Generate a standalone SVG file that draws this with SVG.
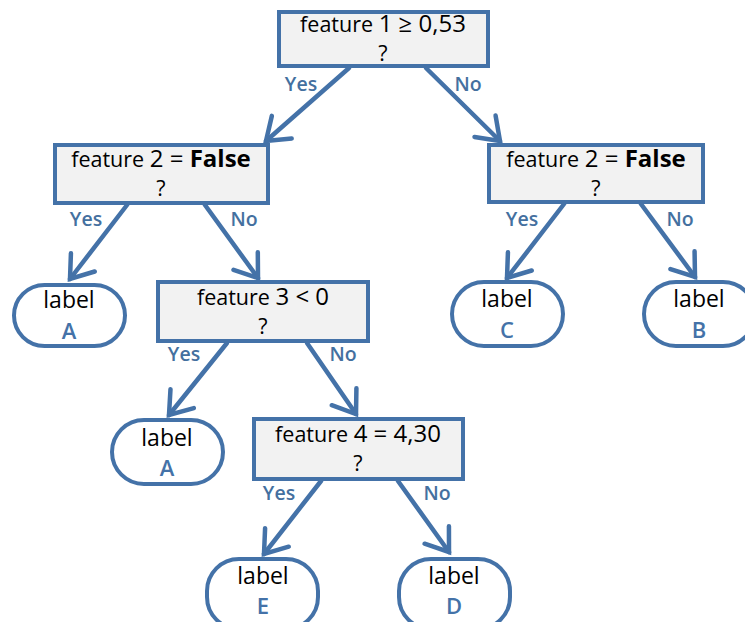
<svg xmlns="http://www.w3.org/2000/svg" width="745" height="622" viewBox="0 0 745 622">
  <style>
    .box { fill: #f2f2f2; stroke: #4472a8; stroke-width: 4; }
    .leaf { fill: #ffffff; stroke: #4472a8; stroke-width: 4; }
    .edge { fill: none; stroke: #4472a8; stroke-width: 4.5; stroke-linecap: round; }
    .q { font-family: "Open Sans", "Noto Sans", sans-serif; font-size: 21.5px; fill: #000; text-anchor: middle; }
    .num { font-size: 24px; font-weight: 500; }
    .b { font-weight: bold; }
    .yn { font-family: "Open Sans", "Noto Sans", sans-serif; font-size: 19.5px; font-weight: 600; fill: #44709f; text-anchor: middle; }
    .lbl { font-family: "Open Sans", "Noto Sans", sans-serif; font-size: 23px; fill: #000; text-anchor: middle; }
    .cls { font-family: "Open Sans", "Noto Sans", sans-serif; font-size: 22px; font-weight: 600; fill: #4472a8; text-anchor: middle; }
  </style>
  <defs>
    <marker id="vhead" markerUnits="userSpaceOnUse" markerWidth="40" markerHeight="40" refX="0" refY="0" viewBox="-30 -20 40 40" orient="auto" overflow="visible">
      <path d="M-21,-15 L0,0 L-21,15" fill="none" stroke="#4472a8" stroke-width="4.5" stroke-linecap="round" stroke-linejoin="miter"/>
    </marker>
  </defs>

  <!-- connectors -->
  <g id="connectors">
    <path class="edge" d="M349,68 L266,141" marker-end="url(#vhead)"/>
    <path class="edge" d="M426,68 L500,141" marker-end="url(#vhead)"/>
    <path class="edge" d="M127,205 L70,279" marker-end="url(#vhead)"/>
    <path class="edge" d="M205,205 L258,278" marker-end="url(#vhead)"/>
    <path class="edge" d="M564,204 L507,278" marker-end="url(#vhead)"/>
    <path class="edge" d="M641,204 L695,277" marker-end="url(#vhead)"/>
    <path class="edge" d="M227,343 L169,415" marker-end="url(#vhead)"/>
    <path class="edge" d="M307,343 L356,414" marker-end="url(#vhead)"/>
    <path class="edge" d="M321,481 L264,554" marker-end="url(#vhead)"/>
    <path class="edge" d="M398,481 L449,552" marker-end="url(#vhead)"/>
    <text class="yn" x="301" y="91">Yes</text>
    <text class="yn" x="468" y="91">No</text>
    <text class="yn" x="86" y="226">Yes</text>
    <text class="yn" x="244" y="226">No</text>
    <text class="yn" x="522" y="226">Yes</text>
    <text class="yn" x="680" y="226">No</text>
    <text class="yn" x="184" y="361">Yes</text>
    <text class="yn" x="343" y="361">No</text>
    <text class="yn" x="279" y="500">Yes</text>
    <text class="yn" x="437" y="500">No</text>
  </g>

  <!-- decision nodes -->
  <g id="q-feature1">
    <rect class="box" x="279" y="12" width="209" height="54"/>
    <text class="q" x="383" y="32">feature <tspan class="num">1 ≥ 0,53</tspan></text>
    <text class="q" x="383" y="61">?</text>
  </g>
  <g id="q-feature2-left">
    <rect class="box" x="55" y="145" width="213" height="58"/>
    <text class="q" x="161" y="167">feature <tspan class="num">2 = </tspan><tspan class="num b">False</tspan></text>
    <text class="q" x="161" y="196">?</text>
  </g>
  <g id="q-feature2-right">
    <rect class="box" x="489" y="145" width="214" height="57"/>
    <text class="q" x="596" y="167">feature <tspan class="num">2 = </tspan><tspan class="num b">False</tspan></text>
    <text class="q" x="596" y="196">?</text>
  </g>
  <g id="q-feature3">
    <rect class="box" x="158" y="282" width="210" height="59"/>
    <text class="q" x="263" y="305">feature <tspan class="num">3 &lt; 0</tspan></text>
    <text class="q" x="263" y="334">?</text>
  </g>
  <g id="q-feature4">
    <rect class="box" x="254" y="419" width="209" height="60"/>
    <text class="q" x="358" y="442">feature <tspan class="num">4 = 4,30</tspan></text>
    <text class="q" x="358" y="471">?</text>
  </g>

  <!-- leaf nodes -->
  <g id="leaf-a1">
    <rect class="leaf" x="14" y="285" width="111" height="61" rx="30.5"/>
    <text class="lbl" x="69" y="308">label</text>
    <text class="cls" x="69" y="339">A</text>
  </g>
  <g id="leaf-c">
    <rect class="leaf" x="452" y="282" width="111" height="64" rx="32"/>
    <text class="lbl" x="507" y="307">label</text>
    <text class="cls" x="507" y="338">C</text>
  </g>
  <g id="leaf-b">
    <rect class="leaf" x="644" y="282" width="111" height="64" rx="32"/>
    <text class="lbl" x="699" y="307">label</text>
    <text class="cls" x="699" y="338">B</text>
  </g>
  <g id="leaf-a2">
    <rect class="leaf" x="112" y="420" width="111" height="64" rx="32"/>
    <text class="lbl" x="167" y="446">label</text>
    <text class="cls" x="167" y="476">A</text>
  </g>
  <g id="leaf-e">
    <rect class="leaf" x="207" y="559" width="111" height="70" rx="32"/>
    <text class="lbl" x="263" y="584">label</text>
    <text class="cls" x="263" y="614">E</text>
  </g>
  <g id="leaf-d">
    <rect class="leaf" x="399" y="559" width="111" height="70" rx="32"/>
    <text class="lbl" x="454" y="584">label</text>
    <text class="cls" x="454" y="614">D</text>
  </g>
</svg>
